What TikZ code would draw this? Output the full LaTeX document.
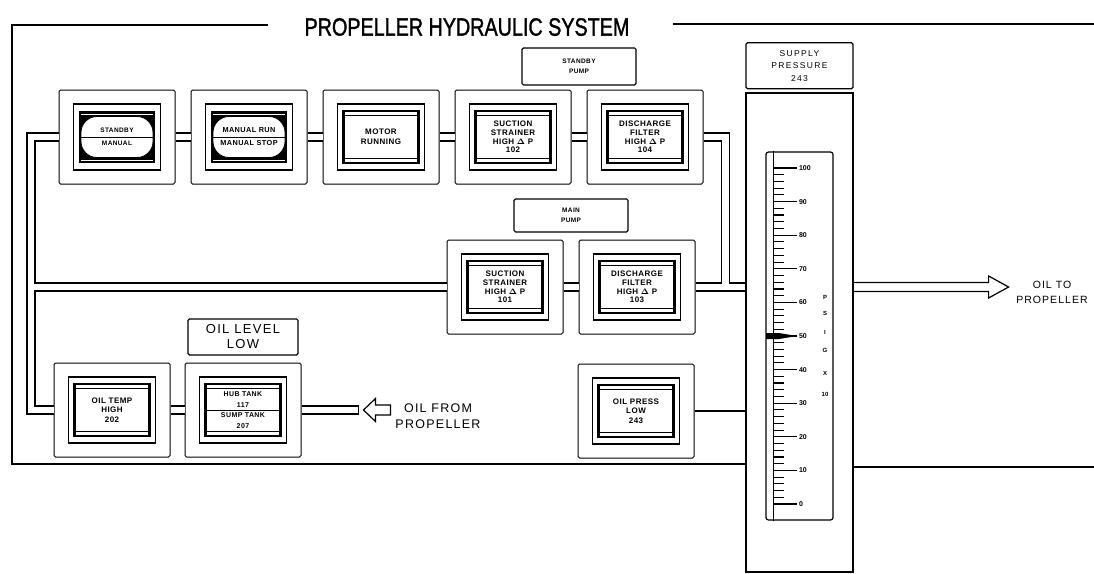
\documentclass[tikz,border=0pt]{standalone}
\usepackage{amsmath}
\usepackage{graphicx}
\usepackage{fontspec}
\setmainfont{Liberation Sans}
\newfontfamily\titlefont[FakeBold=1.5]{Liberation Sans}
\newfontfamily\lampfont[LetterSpace=6]{Liberation Sans}
\newfontfamily\wideletters[LetterSpace=10]{Liberation Sans}
\newfontfamily\spacedletters[LetterSpace=16]{Liberation Sans}
\usetikzlibrary{positioning,calc}
% point of a lamp face, measured from the module centre
\newcommand{\lampat}[2]{([shift={(#1,#2)}]path picture bounding box.center)}

\begin{document}
\begin{tikzpicture}[x=1pt,y=-1pt,every node/.style={align=center},
  frame/.style={line width=2.6pt},
  pipe/.style={double,double distance=6.5pt,line width=1.3pt},
  module/.style={draw,fill=white,line width=1pt,rounded corners=1.5pt,minimum width=116pt,minimum height=94pt,inner sep=0pt,
    font=\lampfont\bfseries\fontsize{8}{8.6}\selectfont},
  lamp/.style={module,path picture={
      \draw[line width=1.3pt,sharp corners] \lampat{-43.5}{-33} rectangle \lampat{43.5}{33};
      \draw[line width=2.4pt,sharp corners] \lampat{-37.5}{-26} rectangle \lampat{37.5}{26};
      \draw[line width=0.9pt] \lampat{-37.5}{-21.5} -- \lampat{37.5}{-21.5} \lampat{-37.5}{21.5} -- \lampat{37.5}{21.5};
    }},
  oval/.style={module,path picture={
      \draw[line width=1.3pt,sharp corners] \lampat{-43.5}{-33} rectangle \lampat{43.5}{33};
      \fill[black,sharp corners] \lampat{-38}{-26} rectangle \lampat{38}{26};
      \draw[white,line width=0.7pt] \lampat{-36}{-23} -- \lampat{36}{-23} \lampat{-36}{23} -- \lampat{36}{23};
      \filldraw[fill=white,draw=black,line width=0.8pt,rounded corners=16pt] \lampat{-36}{-20.5} rectangle \lampat{36}{20.5};
      \draw[black,line width=0.8pt] \lampat{-36}{0} -- \lampat{36}{0};
    }},
  tag/.style={draw,fill=white,line width=1.2pt,rounded corners=1.5pt,inner sep=0pt},
  tagfont/.style={font=\lampfont\bfseries\fontsize{6.5}{9.5}\selectfont},
  tick/.style={line width=1.1pt}]

  \fill[white] (0,0) rectangle (1094,573);
  \useasboundingbox (0,0) rectangle (1094,573);

  % panel frame and title
  \node[font=\titlefont\fontsize{25}{28}\selectfont] (title) at (467,27) {\scalebox{0.79}[1]{PROPELLER HYDRAULIC SYSTEM}};
  \draw[frame] (268,25) -| (12,464) -- (746,464);
  \draw[frame] (673,24) -- (1094,24);
  \draw[frame] (853,467) -- (1094,467);

  % standby pump row
  \node[oval,font=\lampfont\bfseries\fontsize{6.5}{13}\selectfont] (m1) at (117,137) {STANDBY\\MANUAL};
  \node[oval,right=15pt of m1,font=\lampfont\bfseries\fontsize{7.3}{13}\selectfont] (m2) {MANUAL RUN\\MANUAL STOP};
  \node[lamp,right=15pt of m2,font=\lampfont\bfseries\fontsize{8}{10}\selectfont] (m3) {MOTOR\\RUNNING};
  \node[lamp,right=15pt of m3] (m4) {SUCTION\\STRAINER\\HIGH $\boldsymbol{\Delta}$ P\\102};
  \node[lamp,right=15pt of m4] (m5) {DISCHARGE\\FILTER\\HIGH $\boldsymbol{\Delta}$ P\\104};
  \coordinate (sbgap) at ($(m4.north east)!0.5!(m5.north west)$);
  \node[tag,tagfont,above=4pt of sbgap,minimum width=114pt,minimum height=37pt] (sbpump) {STANDBY\\PUMP};

  % main pump row
  \node[lamp] (s101) at (505,287) {SUCTION\\STRAINER\\HIGH $\boldsymbol{\Delta}$ P\\101};
  \node[lamp,right=15pt of s101] (d103) {DISCHARGE\\FILTER\\HIGH $\boldsymbol{\Delta}$ P\\103};
  \coordinate (mpgap) at ($(s101.north east)!0.5!(d103.north west)$);
  \node[tag,tagfont,above=7pt of mpgap,minimum width=114pt,minimum height=33pt] (mppump) {MAIN\\PUMP};

  % oil tanks row
  \node[lamp,font=\lampfont\bfseries\fontsize{8}{9.5}\selectfont] (temp) at (112,410) {OIL TEMP\\HIGH\\202};
  \node[lamp,right=14pt of temp,font=\lampfont\bfseries\fontsize{7}{10.5}\selectfont] (tank) {HUB TANK\\117\\SUMP TANK\\207};
  \draw[line width=1pt] ([xshift=-37.5pt]tank.center) -- ([xshift=37.5pt]tank.center);
  \node[tag,above=7pt of tank,minimum width=110pt,minimum height=36pt,font=\wideletters\fontsize{13}{15}\selectfont] (oillevel) {OIL LEVEL\\LOW};
  \node[lamp,font=\lampfont\bfseries\fontsize{8}{9.5}\selectfont] (press) at (636,411) {OIL PRESS\\LOW\\243};

  % supply pressure gauge
  \node[draw,fill=white,line width=1.2pt,minimum width=107pt,minimum height=479pt] (gauge) at (799.5,332.5) {};
  \node[tag,above=3pt of gauge,minimum width=107pt,minimum height=46pt,font=\spacedletters\fontsize{8.5}{12.5}\selectfont] (supply) {SUPPLY\\PRESSURE\\243};
  \node[draw,line width=1.2pt,rounded corners=2.5pt,minimum width=67pt,minimum height=368pt] (scale) at (799.5,336) {};
  \draw[line width=1pt] ([xshift=8pt]scale.north west) -- ([xshift=8pt]scale.south west);
  \foreach \v in {0,2,...,100}
    \draw[tick] (774,{504-3.36*\v}) -- ++(10,0);
  \foreach \v in {0,10,...,100}
    \draw[tick] (774,{504-3.36*\v}) -- ++(23,0) node[anchor=west,inner sep=1.5pt,font=\bfseries\fontsize{7}{7}\selectfont] {\v};
  \foreach \l/\yy in {P/297,S/313,I/332,G/350,X/373,10/394}
    \node[font=\bfseries\fontsize{6}{6}\selectfont] (psi\l) at (825,\yy) {\l};
  \fill (766,333) -- (779,333) -- (797,336) -- (779,339) -- (766,339) -- cycle;

  % oil pipes
  \coordinate (lbend) at ([xshift=-27.5pt]m1.west);
  \coordinate (rbend) at ([xshift=22pt]m5.east);
  \coordinate (inend) at ([xshift=57pt]tank.east);
  \draw[pipe] (m1.west) -- (lbend) |- (temp.west)
    (lbend |- s101.west) -- (s101.west)
    (m1.east) -- (m2.west) (m2.east) -- (m3.west) (m3.east) -- (m4.west) (m4.east) -- (m5.west)
    (m5.east) -- (rbend) -- (rbend |- d103.east)
    (s101.east) -- (d103.west) (d103.east) -- (d103.east -| gauge.west)
    (temp.east) -- (tank.west) (tank.east) -- (inend);
  \draw[line width=1.3pt] ([yshift=5.2pt]inend) -- ([yshift=-5.2pt]inend);
  \draw[line width=2.6pt] (press.east) -- (press.east -| gauge.west);

  % oil in and out
  \coordinate (intip) at ([xshift=5pt]inend);
  \draw[line width=1.2pt] (intip) -- ++(12,-11.5) -- ++(0,6.5) -- ++(15,0) -- ++(0,10) -- ++(-15,0) -- ++(0,6.5) -- cycle;
  \node[font=\wideletters\fontsize{12.5}{15.5}\selectfont] (oilfrom) at (438,416) {OIL FROM\\PROPELLER};
  \coordinate (outarrow) at (gauge.east |- d103.east);
  \draw[line width=1.2pt] (outarrow) ++(0,-4.5) -- ++(135,0) -- ++(0,-6.5) -- ++(20,11) -- ++(-20,11) -- ++(0,-6.5) -- ++(-135,0);
  \node[font=\wideletters\fontsize{10.5}{15}\selectfont] (oilto) at (1052,292) {OIL TO\\PROPELLER};
\end{tikzpicture}
\end{document}
